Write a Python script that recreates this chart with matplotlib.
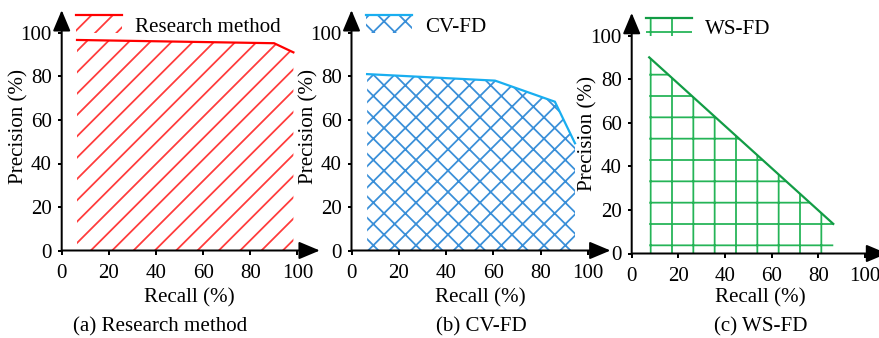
import matplotlib
matplotlib.use("Agg")
import matplotlib.pyplot as plt
from matplotlib.legend_handler import HandlerBase
from matplotlib.patches import Rectangle
from matplotlib.lines import Line2D

# ---------------- data ----------------
recall_a = [6.5, 90.1, 98.3]
precision_a = [96.8, 95.3, 91.1]
recall_b = [6.6, 60.7, 86.0, 94.5]
precision_b = [81.1, 78.1, 68.4, 49.3]
recall_c = [7.5, 86.4]
precision_c = [90.1, 13.6]
series_names = ["Research method", "CV-FD", "WS-FD"]
captions = ["(a) Research method", "(b) CV-FD", "(c) WS-FD"]
tick_values = [0, 20, 40, 60, 80, 100]
xlabel_text = "Recall (%)"
ylabel_text = "Precision (%)"

# ---------------- style ----------------
DPI = 128
plt.rcParams['font.family'] = ['Liberation Serif', 'DejaVu Serif']
plt.rcParams['hatch.linewidth'] = 1.0
FS = 11.8
LW = 1.125
CLW = 1.25

fig = plt.figure(figsize=(879 / DPI, 338 / DPI), dpi=DPI)


def px(x0, y0, x1, y1):
    W, H = 879.0, 338.0
    return [x0 / W, 1 - y1 / H, (x1 - x0) / W, (y1 - y0) / H]


class HatchTopLine(HandlerBase):
    def create_artists(self, legend, orig_handle, xdescent, ydescent,
                       width, height, fontsize, trans):
        hatch, hcolor, lcolor = orig_handle
        r = Rectangle((-xdescent, -ydescent), width, height, facecolor='none',
                      edgecolor=hcolor, hatch=hatch, lw=0, transform=trans)
        ln = Line2D([-xdescent, -xdescent + width], [height - ydescent] * 2,
                    color=lcolor, lw=CLW, transform=trans)
        return [r, ln]


panels = [
    dict(box=px(61.7, 33.0, 297.4, 250.5), x=recall_a, y=precision_a,
         hatch='//', hcolor='#ff3b3b', lcolor='#ff0000',
         xl=(0.542, -0.218), yl=(-0.141, 0.568), cap=(160, 327)),
    dict(box=px(351.5, 33.0, 588.0, 250.5), x=recall_b, y=precision_b,
         hatch='xx', hcolor='#3a8fd8', lcolor='#19aef0',
         xl=(0.543, -0.218), yl=(-0.139, 0.568), cap=(481.7, 327)),
    dict(box=px(631.7, 35.8, 865.0, 253.5), x=recall_c, y=precision_c,
         hatch='+', hcolor='#25b457', lcolor='#129c45',
         xl=(0.55, -0.205), yl=(-0.146, 0.553), cap=(760.8, 327)),
]

for p, name, cap_text in zip(panels, series_names, captions):
    ax = fig.add_axes(p['box'])
    ax.set_xlim(0, 100)
    ax.set_ylim(0, 100)
    for s in ax.spines.values():
        s.set_visible(False)
    ax.fill_between(p['x'], p['y'], 0, facecolor='none', edgecolor=p['hcolor'],
                    hatch=p['hatch'], lw=0, zorder=1)
    ax.plot(p['x'], p['y'], color=p['lcolor'], lw=CLW, zorder=3,
            solid_joinstyle='miter')
    # axis arrows
    arrow = dict(arrowstyle='-|>,head_length=1.0,head_width=0.42',
                 mutation_scale=10, lw=LW, color='k', shrinkA=0, shrinkB=0)
    ax.annotate('', xy=(109.5, 0), xytext=(0, 0), arrowprops=arrow,
                annotation_clip=False, zorder=5)
    ax.annotate('', xy=(0, 110.5), xytext=(0, 0), arrowprops=arrow,
                annotation_clip=False, zorder=5)
    ax.set_xticks(tick_values)
    ax.set_yticks(tick_values)
    ax.tick_params(direction='out', length=2.4, width=LW, labelsize=FS)
    ax.tick_params(axis='x', pad=5.0)
    ax.tick_params(axis='y', pad=3.2)
    ax.set_xlabel(xlabel_text, fontsize=FS)
    ax.xaxis.set_label_coords(*p['xl'])
    ax.xaxis.label.set_va('center')
    ax.set_ylabel(ylabel_text, fontsize=FS)
    ax.yaxis.set_label_coords(*p['yl'])
    ax.patch.set_visible(False)
    handle = (p['hatch'], p['hcolor'], p['lcolor'])
    ax.legend([handle], [name], handler_map={tuple: HatchTopLine()},
              loc='upper left', bbox_to_anchor=(0.061, 1.081),
              frameon=False, fontsize=FS, handlelength=2.2,
              handleheight=0.95, handletextpad=0.6, borderpad=0,
              borderaxespad=0)
    cx, cy = p['cap']
    fig.text(cx / 879, 1 - cy / 338, cap_text, fontsize=FS,
             ha='center', va='center')

fig.savefig('out.png', dpi=DPI)
